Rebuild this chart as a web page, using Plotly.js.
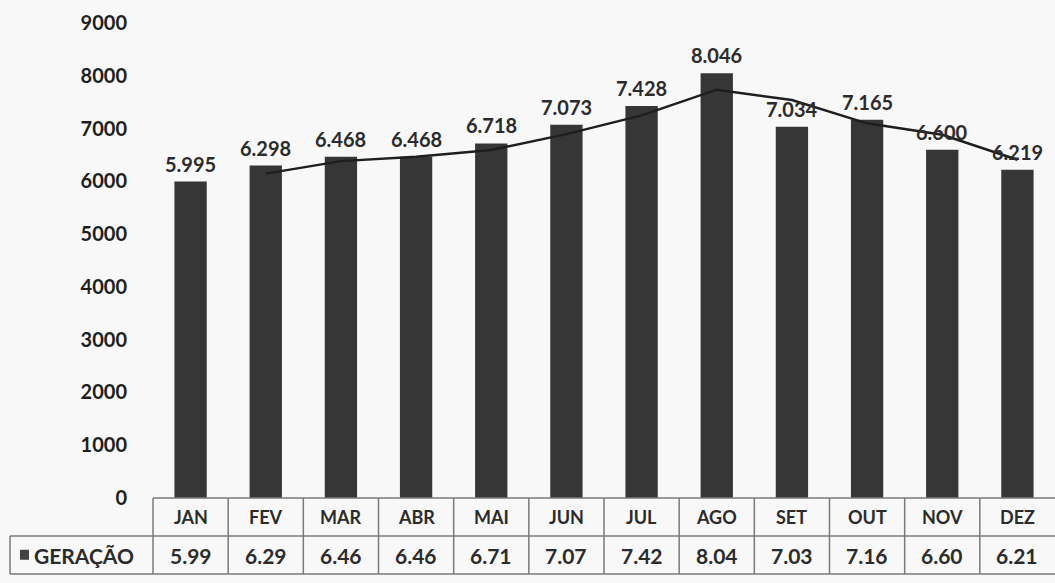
<!DOCTYPE html>
<html>
<head>
<meta charset="utf-8">
<script src="https://cdn.plot.ly/plotly-3.0.1.min.js"></script>
<style>
  html, body { margin: 0; padding: 0; background: #f8f8f8; }
  #chart { width: 1055px; height: 583px; }
</style>
</head>
<body>
<div id="chart"></div>
<script>
const months = ['JAN','FEV','MAR','ABR','MAI','JUN','JUL','AGO','SET','OUT','NOV','DEZ'];
const geracao = [5995, 6298, 6468, 6468, 6718, 7073, 7428, 8046, 7034, 7165, 6600, 6219];
const barLabels = ['5.995','6.298','6.468','6.468','6.718','7.073','7.428','8.046','7.034','7.165','6.600','6.219'];
const tableValues = ['5.99','6.29','6.46','6.46','6.71','7.07','7.42','8.04','7.03','7.16','6.60','6.21'];
const trendLine = [null, 6146, 6383, 6468, 6593, 6895, 7250, 7737, 7540, 7099, 6882, 6409];
const seriesName = 'GERAÇÃO';
const yTicks = [0,1000,2000,3000,4000,5000,6000,7000,8000,9000];

const FONT = 'Lato, "Open Sans", sans-serif';
const INK = '#2b2b2b';
const BORDER = '#7a7a7a';

const traces = [
  {
    type: 'bar', x: months, y: geracao, name: seriesName,
    marker: { color: '#363636' },
    hoverinfo: 'x+y'
  },
  {
    type: 'scatter', mode: 'lines', x: months, y: trendLine,
    line: { color: '#1e1e1e', width: 2.5 }, connectgaps: false,
    hoverinfo: 'skip'
  }
];

// Table geometry (paper coordinates)
const rowTop = 0, rowMid = -0.08, rowBot = -0.16;
const legendLeft = -0.1585;

const shapes = [];
const annotations = [];
const lineStyle = { color: BORDER, width: 1.5 };

shapes.push({ type: 'line', xref: 'paper', yref: 'paper', x0: 0, x1: 1, y0: rowTop, y1: rowTop, line: lineStyle });
shapes.push({ type: 'line', xref: 'paper', yref: 'paper', x0: legendLeft, x1: 1, y0: rowMid, y1: rowMid, line: lineStyle });
shapes.push({ type: 'line', xref: 'paper', yref: 'paper', x0: legendLeft, x1: 1, y0: rowBot, y1: rowBot, line: lineStyle });
shapes.push({ type: 'line', xref: 'paper', yref: 'paper', x0: legendLeft, x1: legendLeft, y0: rowMid, y1: rowBot, line: lineStyle });
shapes.push({ type: 'line', xref: 'paper', yref: 'paper', x0: 0, x1: 0, y0: rowTop, y1: rowBot, line: lineStyle });

months.forEach((m, i) => {
  if (i < months.length - 1) {
    shapes.push({ type: 'line', xref: 'x', yref: 'paper', x0: i + 0.5, x1: i + 0.5, y0: rowTop, y1: rowBot, line: lineStyle });
  }
  annotations.push({
    xref: 'x', yref: 'y', x: m, y: geracao[i], yanchor: 'middle', yshift: 18,
    text: barLabels[i], showarrow: false,
    font: { family: FONT, size: 20, color: INK, weight: 'bold' }
  });
  annotations.push({
    xref: 'x', yref: 'paper', x: m, y: (rowTop + rowMid) / 2, yanchor: 'middle',
    text: m, showarrow: false,
    font: { family: FONT, size: 18, color: INK, weight: 'bold' }
  });
  annotations.push({
    xref: 'x', yref: 'paper', x: m, y: (rowMid + rowBot) / 2, yanchor: 'middle',
    text: tableValues[i], showarrow: false,
    font: { family: FONT, size: 21, color: INK, weight: 'bold' }
  });
});

// legend key in table
shapes.push({ type: 'rect', xref: 'paper', yref: 'paper', x0: -0.1475, x1: -0.1375, y0: -0.109, y1: -0.130, fillcolor: '#444', line: { width: 0 } });
annotations.push({
  xref: 'paper', yref: 'paper', x: -0.134, y: (rowMid + rowBot) / 2, xanchor: 'left', yanchor: 'middle',
  text: seriesName, showarrow: false,
  font: { family: FONT, size: 21, color: INK, weight: 'bold' }
});

const layout = {
  width: 1055, height: 583,
  margin: { l: 153, r: 0, t: 23, b: 85 },
  paper_bgcolor: '#f8f8f8', plot_bgcolor: 'rgba(0,0,0,0)',
  showlegend: false,
  bargap: 0.57,
  xaxis: {
    type: 'category', range: [-0.5, 11.5], showticklabels: false,
    showgrid: false, zeroline: false, showline: false, ticks: ''
  },
  yaxis: {
    range: [0, 9000], tickvals: yTicks, ticktext: yTicks.map(String),
    showgrid: false, zeroline: false, showline: false, ticks: '',
    ticklabelstandoff: 25,
    tickfont: { family: FONT, size: 20, color: '#1e1e1e', weight: 'bold' }
  },
  shapes: shapes,
  annotations: annotations
};

Plotly.newPlot('chart', traces, layout, { displayModeBar: false, staticPlot: true });
</script>
</body>
</html>
